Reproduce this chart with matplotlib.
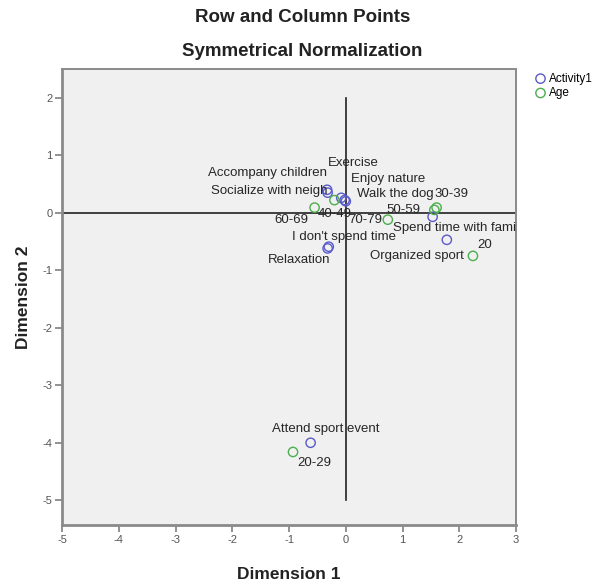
import matplotlib
matplotlib.use("Agg")
import matplotlib.pyplot as plt

plt.rcParams['font.family'] = ['Liberation Sans', 'DejaVu Sans']
plt.rcParams['axes.unicode_minus'] = False

# Row points (activities)
activity_names = ["Accompany children", "Socialize with neigh", "Exercise",
                  "Enjoy nature", "Walk the dog", "Spend time with fami",
                  "I don't spend time", "Relaxation", "Organized sport",
                  "Attend sport event"]
activity_dim1 = [-0.33, -0.32, -0.08, -0.02, 0.00, 1.53, -0.30, -0.32, 1.78, -0.62]
activity_dim2 = [0.40, 0.35, 0.26, 0.22, 0.20, -0.07, -0.59, -0.62, -0.47, -4.00]

# Column points (age groups)
age_names = ["20", "20-29", "30-39", "40-49", "50-59", "60-69", "70-79"]
age_dim1 = [2.24, -0.93, 1.60, -0.20, 1.56, -0.55, 0.74]
age_dim2 = [-0.75, -4.16, 0.09, 0.22, 0.05, 0.09, -0.12]

# label anchor points (edge, vertical centre) in data units
activity_label_pos = [(-0.33, 0.70, 'right'), (-0.33, 0.37, 'right'), (-0.32, 0.87, 'left'),
                      (0.10, 0.58, 'left'), (0.19, 0.33, 'left'), (0.83, -0.26, 'left'),
                      (-0.95, -0.42, 'left'), (-1.37, -0.83, 'left'), (0.42, -0.75, 'left'),
                      (-1.30, -3.76, 'left')]
age_label_pos = [(2.31, -0.56, 'left'), (-0.86, -4.35, 'left'), (1.57, 0.33, 'left'),
                 (-0.49, -0.02, 'left'), (0.72, 0.05, 'left'), (-1.25, -0.12, 'left'),
                 (0.05, -0.12, 'left')]

blue = '#5a5acb'
green = '#4cae4c'

fig = plt.figure(figsize=(6.05, 5.83), dpi=100)
ax = fig.add_axes([0.1025, 0.0995, 0.7505, 0.7821])
ax.set_facecolor('#f0f0f0')

ax.set_xlim(-5, 3)
ax.set_ylim(-5.43, 2.5)

# reference lines through the origin
ax.plot([-5, 3], [0, 0], color='#222222', lw=1.2, zorder=1)
ax.plot([0, 0], [2, -5], color='#222222', lw=1.2, zorder=1)

ax.scatter(activity_dim1, activity_dim2, s=45, facecolors='none', edgecolors=blue,
           linewidths=1.0, label='Activity1', zorder=3)
ax.scatter(age_dim1, age_dim2, s=45, facecolors='none', edgecolors=green,
           linewidths=1.0, label='Age', zorder=3)

for name, (lx, ly, ha) in zip(activity_names, activity_label_pos):
    ax.text(lx, ly, name, ha=ha, va='center', fontsize=9.5, color='#262626', zorder=4)
for name, (lx, ly, ha) in zip(age_names, age_label_pos):
    ax.text(lx, ly, name, ha=ha, va='center', fontsize=9.5, color='#262626', zorder=4)

ax.set_xticks(range(-5, 4))
ax.set_yticks(range(-5, 3))
ax.tick_params(axis='both', direction='out', length=5, width=1.2, color='#7f7f7f',
               labelsize=8, labelcolor='#555555', pad=2)
for side, spine in ax.spines.items():
    spine.set_color('#8a8a8a')
    spine.set_linewidth(2.0 if side in ('left', 'bottom') else 1.4)

ax.set_xlabel('Dimension 1', fontsize=12.5, fontweight='bold', color='#222222', labelpad=16)
ax.set_ylabel('Dimension 2', fontsize=12.5, fontweight='bold', color='#222222', labelpad=8)

fig.text(0.5, 1 - 17 / 583, 'Row and Column Points', ha='center', va='center',
         fontsize=13.5, fontweight='bold', color='#222222')
fig.text(0.5, 1 - 52 / 583, 'Symmetrical Normalization', ha='center', va='center',
         fontsize=13.5, fontweight='bold', color='#222222')

ax.legend(loc='upper left', bbox_to_anchor=(1.02, 1.01), frameon=False, fontsize=8.5,
          handletextpad=0.1, borderaxespad=0.3, labelspacing=0.2, markerscale=1.0,
          handlelength=1.2)

fig.savefig('out.png', dpi=100)
